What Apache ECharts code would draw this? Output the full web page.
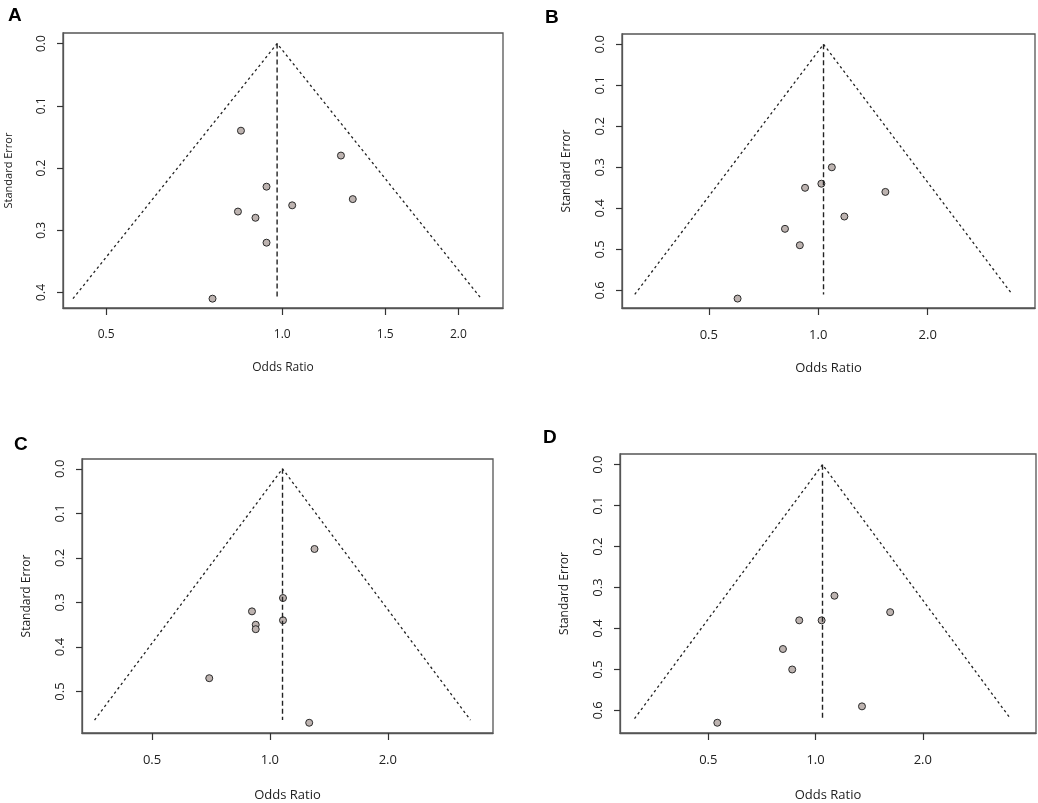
<!DOCTYPE html>
<html>
<head>
<meta charset="utf-8">
<script src="https://cdn.jsdelivr.net/npm/echarts@6/dist/echarts.min.js"></script>
<style>
  html, body { margin: 0; padding: 0; background: #fff; }
  #chart { width: 1038px; height: 803px; }
</style>
</head>
<body>
<div id="chart"></div>
<script>
// panel letters
const panels = ["A", "B", "C", "D"];

// study odds ratios and standard errors
const orA = [0.85, 1.26, 0.94, 1.32, 1.04, 0.84, 0.90, 0.94, 0.76];
const seA = [0.14, 0.18, 0.23, 0.25, 0.26, 0.27, 0.28, 0.32, 0.41];
const orB = [1.09, 1.02, 0.92, 1.53, 1.18, 0.81, 0.89, 0.60];
const seB = [0.30, 0.34, 0.35, 0.36, 0.42, 0.45, 0.49, 0.62];
const orC = [1.30, 1.08, 0.90, 0.92, 0.92, 1.08, 0.70, 1.26];
const seC = [0.18, 0.29, 0.32, 0.35, 0.36, 0.34, 0.47, 0.57];
const orD = [1.13, 1.62, 0.90, 1.04, 0.81, 0.86, 1.35, 0.53];
const seD = [0.32, 0.36, 0.38, 0.38, 0.45, 0.50, 0.59, 0.63];

// pooled estimate and depth of the funnel
const pooledOR = [0.98, 1.034, 1.077, 1.046];
const funnelSE = [0.41, 0.61, 0.564, 0.62];

// tick labels
const xTicksA = [0.5, 1.0, 1.5, 2.0];
const xTicksBCD = [0.5, 1.0, 2.0];
const yTicksA = [0, 0.1, 0.2, 0.3, 0.4];
const yTicksB = [0, 0.1, 0.2, 0.3, 0.4, 0.5, 0.6];
const yTicksC = [0, 0.1, 0.2, 0.3, 0.4, 0.5];
const yTicksD = [0, 0.1, 0.2, 0.3, 0.4, 0.5, 0.6];

const orAll = [orA, orB, orC, orD];
const seAll = [seA, seB, seC, seD];
const xTicks = [xTicksA, xTicksBCD, xTicksBCD, xTicksBCD];
const yTicks = [yTicksA, yTicksB, yTicksC, yTicksD];

// layout (pixels) and axis windows (log OR / SE)
const boxes = [
  { left: 63, top: 33, width: 440, height: 275 },
  { left: 622, top: 34, width: 413, height: 274 },
  { left: 82, top: 459, width: 411, height: 279 },
  { left: 620, top: 454, width: 416, height: 283 }
];
const xRange = [[-0.863, 0.869], [-1.243, 1.373], [-1.105, 1.312], [-1.264, 1.425]];
const yRange = [[-0.017, 0.425], [-0.025, 0.643], [-0.022, 0.593], [-0.026, 0.655]];
const fontSz = [12, 13, 13, 13];
const letterPos = [[8, 6], [545, 8], [14, 435], [543, 428]];

const font = "Open Sans";
const textColor = "#222";
const frame = { color: "#555", width: 1.3 };
const tickStyle = { color: "#333", width: 1.2 };

let grid = [], xAxis = [], yAxis = [], series = [], graphic = [];

panels.forEach(function (p, i) {
  grid.push(Object.assign({
    show: true,
    borderColor: frame.color,
    borderWidth: frame.width
  }, boxes[i]));

  // x is drawn on log(OR), labels turned back into OR
  let lnTicks = xTicks[i].map(function (v) { return Math.log(v) });
  xAxis.push({
    gridIndex: i,
    type: "value",
    position: "bottom",
    min: xRange[i][0],
    max: xRange[i][1],
    name: "Odds Ratio",
    nameLocation: "middle",
    nameGap: i < 2 ? 54 : 56,
    nameTextStyle: { fontFamily: font, fontSize: fontSz[i], color: textColor },
    axisLine: { show: true, onZero: false, lineStyle: frame },
    splitLine: { show: false },
    axisTick: { show: true, customValues: lnTicks, length: 7, lineStyle: tickStyle },
    axisLabel: {
      customValues: lnTicks,
      margin: 21,
      fontFamily: font,
      fontSize: fontSz[i],
      color: textColor,
      formatter: function (v) { return Math.exp(v).toFixed(1) }
    }
  });

  yAxis.push({
    gridIndex: i,
    type: "value",
    position: "left",
    inverse: true,
    min: yRange[i][0],
    max: yRange[i][1],
    name: "Standard Error",
    nameLocation: "middle",
    nameGap: 49,
    nameTextStyle: { fontFamily: font, fontSize: fontSz[i] - 1, color: textColor },
    axisLine: { show: true, onZero: false, lineStyle: frame },
    splitLine: { show: false },
    axisTick: { show: true, customValues: yTicks[i], length: 6, lineStyle: tickStyle },
    axisLabel: {
      customValues: yTicks[i],
      rotate: 90,
      margin: 15,
      fontFamily: font,
      fontSize: fontSz[i],
      color: textColor,
      formatter: function (v) { return v.toFixed(1) }
    }
  });

  let mu = Math.log(pooledOR[i]);
  let seMax = funnelSE[i];

  // pseudo 95% limits
  series.push({
    type: "line",
    xAxisIndex: i,
    yAxisIndex: i,
    symbol: "none",
    silent: true,
    lineStyle: { color: "#222", width: 1.3, type: [2.5, 3] },
    data: [[mu - 1.96 * seMax, seMax], [mu, 0], [mu + 1.96 * seMax, seMax]]
  });
  // pooled estimate
  series.push({
    type: "line",
    xAxisIndex: i,
    yAxisIndex: i,
    symbol: "none",
    silent: true,
    lineStyle: { color: "#222", width: 1.4, type: [5, 3] },
    data: [[mu, 0], [mu, seMax]]
  });
  series.push({
    type: "scatter",
    xAxisIndex: i,
    yAxisIndex: i,
    symbolSize: 7,
    itemStyle: { color: "#bdb3b0", borderColor: "#2a2a2a", borderWidth: 1, opacity: 1 },
    data: orAll[i].map(function (v, k) { return [Math.log(v), seAll[i][k]] })
  });

  graphic.push({
    type: "text",
    left: letterPos[i][0],
    top: letterPos[i][1],
    style: { text: p, font: "bold 19px 'Liberation Sans', Arial", fill: "#000" }
  });
});

let chart = echarts.init(document.getElementById("chart"));
chart.setOption({
  animation: false,
  backgroundColor: "#fff",
  grid: grid,
  xAxis: xAxis,
  yAxis: yAxis,
  series: series,
  graphic: graphic
});
</script>
</body>
</html>
